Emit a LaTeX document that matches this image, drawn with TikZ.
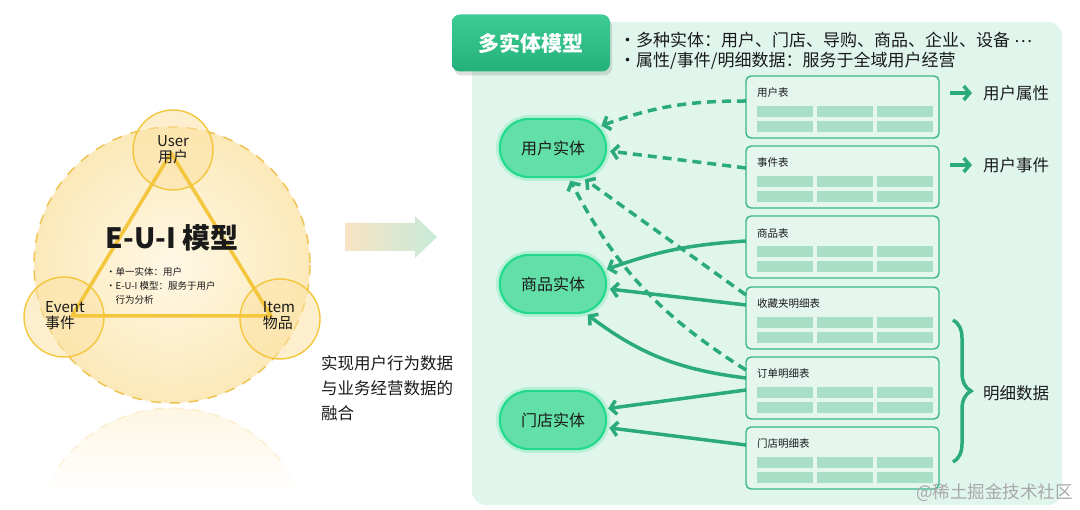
\documentclass[tikz,border=0pt]{standalone}
\usepackage{fontspec}
\setmainfont{Noto Sans CJK SC}
\usetikzlibrary{arrows.meta, shadows, decorations.pathreplacing, shapes.misc}

\definecolor{ringline}{HTML}{F0C452}
\definecolor{ringin}{HTML}{FFF8E6}
\definecolor{ringout}{HTML}{FCE9B9}
\definecolor{mirrorc}{HTML}{FEF6E2}
\definecolor{smallfill}{HTML}{FCE3A6}
\definecolor{triline}{HTML}{F4C63D}
\definecolor{arrl}{HTML}{F7E3C3}
\definecolor{arrr}{HTML}{C8EBDA}
\definecolor{panelc}{HTML}{E0F6EC}
\definecolor{headtop}{HTML}{3DCC94}
\definecolor{headbot}{HTML}{24B07A}
\definecolor{pillc}{HTML}{63E0A9}
\definecolor{pillline}{HTML}{22D98C}
\definecolor{tabfill}{HTML}{E4F6EE}
\definecolor{tabline}{HTML}{3AB689}
\definecolor{cellc}{HTML}{A9DFC6}
\definecolor{linkc}{HTML}{2BAA7C}
\definecolor{inkc}{HTML}{1A1A1A}
\definecolor{wmc}{HTML}{A8A8A8}

\begin{document}
\begin{tikzpicture} [x = 1pt, y = -1pt,
  smallc/.style = {circle, draw = triline, line width = 1.4, fill = smallfill, fill opacity = 0.55, minimum size = 80},
  circtext/.style = {align = left, inner sep = 0, text = inkc, font = \fontsize{15}{16}\selectfont},
  tri/.style = {draw = triline, line width = 3.5, line join = round},
  entity/.style = {rounded rectangle, draw = pillline, line width = 2.2, fill = pillc, minimum width = 113, minimum height = 58, text = inkc, font = \fontsize{16}{18}\selectfont, preaction = {draw = pillc, line width = 8, opacity = 0.3}},
  tab/.style = {rectangle, rounded corners = 5, draw = tabline, line width = 1.4, fill = tabfill, minimum width = 193, minimum height = 62, anchor = north west, inner sep = 0, outer sep = 0},
  tabtitle/.style = {anchor = west, inner sep = 0, text = inkc, font = \fontsize{10.5}{12}\selectfont},
  link/.style = {draw = linkc, line width = 3.5, shorten > = 3pt, -{Straight Barb[length = 6pt, width = 14pt]}},
  dlink/.style = {link, dash pattern = on 9pt off 6pt},
  plain/.style = {anchor = west, inner sep = 0, text = inkc, font = \fontsize{16.5}{18}\selectfont}]
\useasboundingbox (0, 0) rectangle (1080, 510);
\fill[white] (0, 0) rectangle (1080, 510);

\draw[dash pattern = on 10pt off 9pt, draw = ringline, line width = 1.5, inner color = ringin, outer color = ringout] (172, 265) circle [radius = 138];
\begin{scope}
\clip (172, 546) circle [radius = 138];
\shade[top color = mirrorc, bottom color = white] (20, 406) rectangle (330, 492);
\end{scope}
\draw[dash pattern = on 10pt off 9pt, draw = ringline, line width = 1.2, opacity = 0.25] (172, 546) ++(215 : 138) arc [start angle = 215, end angle = 325, radius = 138];

\node[smallc] (user) at (173, 150) {};
\node[smallc] (event) at (64, 317) {};
\node[smallc] (item) at (280, 319) {};
\coordinate (vu) at (171, 153);
\coordinate (ve) at (72, 316);
\coordinate (vi) at (271, 316);
\draw[tri] (vu) -- (ve) -- (vi) -- cycle;
\node[circtext, align = center] (usertext) at (user) {User\\用户};
\node[circtext] (eventtext) at (65, 316) {Event\\事件};
\node[circtext] (itemtext) at (279, 316) {Item\\物品};
\node[text = inkc, font = \fontsize{28}{30}\selectfont\bfseries] (eui) at (172, 238) {E-U-I 模型};
\node[anchor = north west, align = left, inner sep = 0, text = inkc, font = \fontsize{9.5}{14}\selectfont] (euinote) at (106, 267) {•单一实体：用户\\•E-U-I 模型：服务于用户\\\phantom{•}行为分析};

\shade[left color = arrl, right color = arrr] (345, 223) -- (415, 223) -- (415, 216) -- (437, 237) -- (415, 258) -- (415, 251) -- (345, 251) -- cycle;
\node[anchor = north west, align = left, inner sep = 0, text = inkc, font = \fontsize{16.5}{25}\selectfont] (fuse) at (321, 355) {实现用户行为数据\\与业务经营数据的\\融合};

\fill[panelc, rounded corners = 14] (472, 22) rectangle (1062, 505);
\node[rectangle, rounded corners = 8, minimum width = 158, minimum height = 57, top color = headtop, bottom color = headbot, text = white, font = \fontsize{21}{23}\selectfont\bfseries, drop shadow = {opacity = 0.25, shadow xshift = 2pt, shadow yshift = -4pt}] (head) at (531, 43) {多实体模型};
\node[anchor = west, align = left, inner sep = 0, text = inkc, font = \fontsize{17}{19.5}\selectfont] (headnote) at (619, 51) {•多种实体：用户、门店、导购、商品、企业、设备 \raisebox{0.28em}{…}\\•属性/事件/明细数据：服务于全域用户经营};

\node[entity] (euser) at (553, 148) {用户实体};
\node[entity] (egoods) at (553, 284) {商品实体};
\node[entity] (eshop) at (553, 420) {门店实体};

\node[tab] (tuser) at (746, 76) {};
\node[tab] (tevent) at (746, 146) {};
\node[tab] (tgoods) at (746, 216) {};
\node[tab] (tfav) at (746, 287) {};
\node[tab] (torder) at (746, 357) {};
\node[tab] (tshop) at (746, 427) {};
\foreach \t in {tuser, tevent, tgoods, tfav, torder, tshop} {
  \foreach \c in {0, 1, 2} {
    \fill[cellc] ([shift = {(11 + 60*\c, 30)}]\t.north west) rectangle +(56, 11);
    \fill[cellc] ([shift = {(11 + 60*\c, 45)}]\t.north west) rectangle +(56, 11);
  }
}
\node[tabtitle] (tusername) at ([shift = {(11, 17)}]tuser.north west) {用户表};
\node[tabtitle] (teventname) at ([shift = {(11, 17)}]tevent.north west) {事件表};
\node[tabtitle] (tgoodsname) at ([shift = {(11, 17)}]tgoods.north west) {商品表};
\node[tabtitle] (tfavname) at ([shift = {(11, 17)}]tfav.north west) {收藏夹明细表};
\node[tabtitle] (tordername) at ([shift = {(11, 17)}]torder.north west) {订单明细表};
\node[tabtitle] (tshopname) at ([shift = {(11, 17)}]tshop.north west) {门店明细表};

\draw[dlink] ([yshift = 6pt]tuser.west) to[bend right = 10] (euser.25);
\draw[dlink] ([yshift = 9pt]tevent.west) -- (euser.-3);
\draw[dlink] ([yshift = -8pt]tfav.north west) -- (euser.-45);
\draw[dlink] ([yshift = 18pt]torder.west) to[bend left = 15] (euser.-62);
\draw[link] ([yshift = 6pt]tgoods.west) to[bend right = 8] (egoods.15);
\draw[link] ([yshift = 13pt]tfav.west) -- (egoods.-5);
\draw[link] ([yshift = 10pt]torder.west) to[bend left = 15] (egoods.-42);
\draw[link] ([yshift = -2pt]torder.west) -- (eshop.12);
\draw[link] ([yshift = 13pt]tshop.west) -- (eshop.-8);

\node[plain] (pattr) at (983, 93) {用户属性};
\node[plain] (pevent) at (983, 165) {用户事件};
\draw[link, shorten > = 0pt] ([xshift = 11pt]tuser.east |- pattr.west) -- ([xshift = -11pt]pattr.west);
\draw[link, shorten > = 0pt] ([xshift = 11pt]tevent.east |- pevent.west) -- ([xshift = -11pt]pevent.west);
\coordinate (bt) at (953, 320);
\coordinate (bb) at (953, 462);
\draw[draw = linkc, line width = 3.5, decorate, decoration = {brace, amplitude = 18pt}] (bt) -- (bb);
\node[plain] (pdetail) at (983, 393) {明细数据};

\node[anchor = east, inner sep = 0, text = wmc, font = \fontsize{17.5}{19}\selectfont] (mark) at (1073, 493) {@稀土掘金技术社区};
\end{tikzpicture}
\end{document}
